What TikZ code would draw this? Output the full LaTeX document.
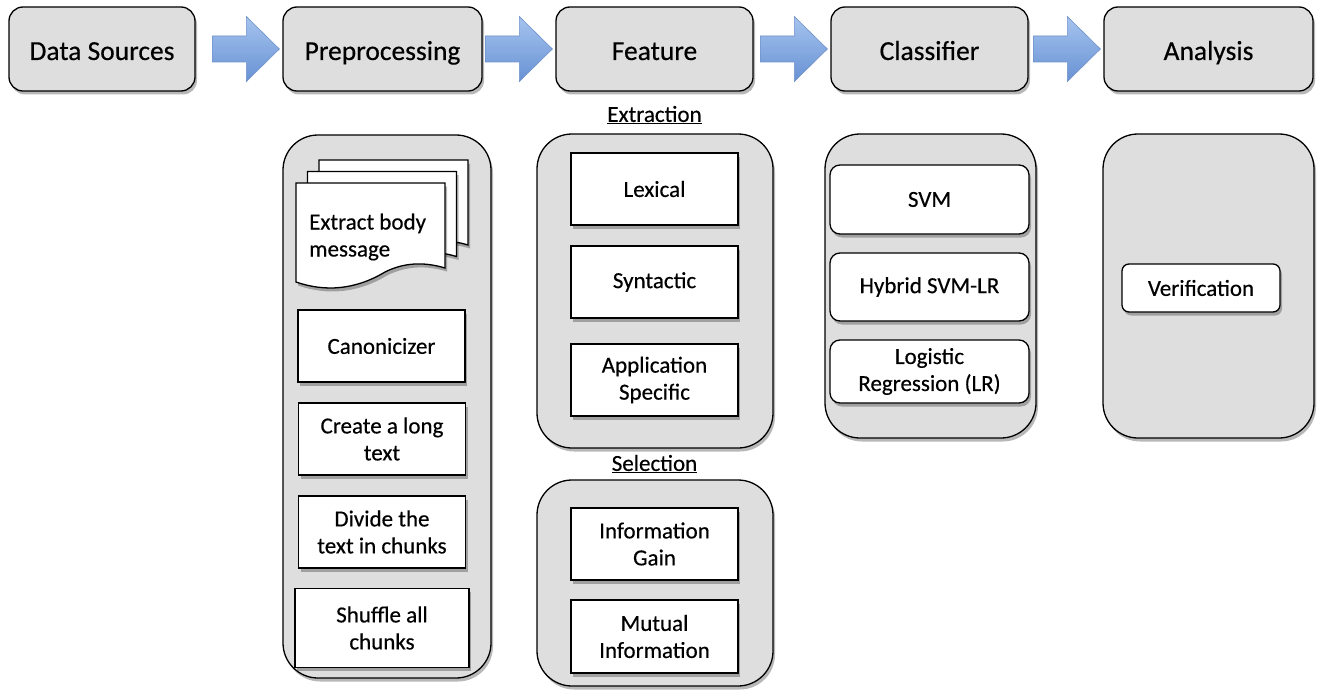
\documentclass[tikz,border=0pt]{standalone}
\usepackage{fontspec}
\setmainfont{Carlito}[FakeBold=0.4]
\usetikzlibrary{shadows,calc}
\definecolor{boxgray}{RGB}{222,222,222}
\definecolor{arrowtop}{RGB}{165,195,238}
\definecolor{arrowbot}{RGB}{104,146,212}
\definecolor{arrowline}{RGB}{112,146,200}
\newcommand\topfont{\fontsize{27.5}{32}\selectfont}
\newcommand\infont{\fontsize{23}{27}\selectfont}
\newcommand\blockarrow[2]{%
  \path[blockarrow] let \p1=(#2.west) in
    (\x1-70pt,\y1+13pt) -- (\x1-36pt,\y1+13pt) -- (\x1-36pt,\y1+32.5pt) --
    (\x1-3pt,\y1) -- (\x1-36pt,\y1-32.5pt) -- (\x1-36pt,\y1-13pt) --
    (\x1-70pt,\y1-13pt) -- cycle;}
\newcommand\docpath{(296,183) -- (445,183) -- (445,268)
  .. controls (425,262) and (405,262) .. (385,272)
  .. controls (355,290) and (325,292) .. (296,282) -- cycle}
\begin{document}
\begin{tikzpicture}[x=1pt,y=-1pt,
  myshadow/.style={drop shadow={shadow xshift=2pt,shadow yshift=-3.5pt,opacity=0.28,fill=black}},
  topbox/.style={draw=black,line width=1.3pt,fill=boxgray,rounded corners=14pt,
    minimum height=84pt,inner sep=0pt,font=\topfont,text height=22pt,text depth=0pt,myshadow},
  container/.style={draw=black,line width=1.3pt,fill=boxgray,rounded corners=35pt,
    inner sep=0pt,myshadow},
  inbox/.style={draw=black,line width=1.3pt,fill=white,inner sep=0pt,align=center,
    font=\infont,minimum width=167pt,minimum height=72pt,myshadow},
  rinbox/.style={inbox,rounded corners=10pt,minimum width=199pt},
  sheet/.style={draw=black,line width=1.3pt,fill=white,myshadow},
  blockarrow/.style={draw=arrowline,line width=0.6pt,top color=arrowtop,bottom color=arrowbot},
  label/.style={font=\infont,inner sep=0pt}]
\useasboundingbox (0,0) rectangle (1324,690);

% top row
\node[topbox,minimum width=186pt] (ds)   at (102,49)    {Data Sources};
\node[topbox,minimum width=199pt] (pre)  at (382.5,49)  {Preprocessing};
\node[topbox,minimum width=197pt] (feat) at (654.5,49)  {Feature};
\node[topbox,minimum width=197pt] (cls)  at (929.5,49)  {Classifier};
\node[topbox,minimum width=209pt] (ana)  at (1208.5,49) {Analysis};

\blockarrow{ds}{pre}
\blockarrow{pre}{feat}
\blockarrow{feat}{cls}
\blockarrow{cls}{ana}

% containers
\node[container,minimum width=208pt,minimum height=543pt] (preC) at (387,406.5) {};
\node[container,minimum width=236pt,minimum height=314pt] (extC) at (655,291) {};
\node[container,minimum width=236pt,minimum height=206pt] (selC) at (655,583) {};
\node[container,minimum width=211pt,minimum height=304pt] (clsC) at (930.5,286) {};
\node[container,minimum width=211pt,minimum height=304pt] (anaC) at (1208.5,286) {};

% labels
\node[label] (extL) at (654.5,115) {\underline{Extraction}};
\node[label] (selL) at (654.5,464) {\underline{Selection}};

% document stack
\begin{scope}[shift={(23,-23)}]
  \path[sheet] \docpath;
\end{scope}
\begin{scope}[shift={(11.5,-11.5)}]
  \path[sheet] \docpath;
\end{scope}
\path[sheet] \docpath;
\node[anchor=west,align=left,font=\infont,inner sep=0pt] (extract) at (309,237) {Extract body\\message};

% preprocessing steps
\node[inbox] (canon)   at (381.5,346) {Canonicizer};
\node[inbox] (create)  at (382,439)   {Create a long\\text};
\node[inbox] (divide)  at (382,532)   {Divide the\\text in chunks};
\node[inbox,minimum width=174pt,minimum height=79pt] (shuffle) at (382,628) {Shuffle all\\chunks};

% feature extraction
\node[inbox] (lex) at (654.5,189) {Lexical};
\node[inbox] (syn) at (654.5,282) {Syntactic};
\node[inbox] (app) at (654.5,380) {Application\\Specific};

% feature selection
\node[inbox] (ig) at (654.5,544)   {Information\\Gain};
\node[inbox,minimum height=73pt] (mi) at (654.5,636.5) {Mutual\\Information};

% classifiers
\node[rinbox,minimum height=69pt] (svm) at (929.5,199.5) {SVM};
\node[rinbox,minimum height=68pt] (hyb) at (929.5,287)   {Hybrid SVM-LR};
\node[rinbox,minimum height=63pt] (lr)  at (929.5,371.5) {Logistic\\Regression (LR)};

% analysis
\node[inbox,rounded corners=7pt,minimum width=158pt,minimum height=48pt] (ver) at (1201,288) {Verification};
\end{tikzpicture}
\end{document}
